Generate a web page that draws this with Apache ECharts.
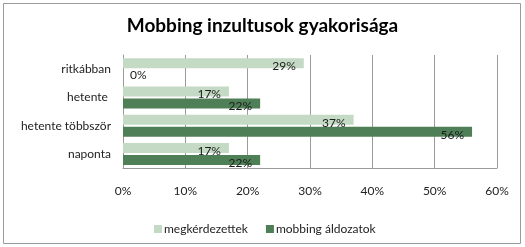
<!DOCTYPE html>
<html>
<head>
<meta charset="utf-8">
<script src="https://cdn.jsdelivr.net/npm/echarts@6/dist/echarts.min.js"></script>
<style>
html,body{margin:0;padding:0;background:#fff;}
#c{width:525px;height:247px;}
</style>
</head>
<body>
<div id="c"></div>
<script>
var categories = ['ritkábban', 'hetente ', 'hetente többször', 'naponta'];
var seriesNames = ['megkérdezettek', 'mobbing áldozatok'];
var megkerdezettek = [29, 17, 37, 17];
var aldozatok = [0, 22, 56, 22];
var xTicks = [0, 10, 20, 30, 40, 50, 60];

var FONT = 'Lato';
function mkData(arr) {
  return arr.map(function (v) {
    if (v === 0) return { value: v, label: { position: 'right', offset: [0, 0], distance: 7 } };
    return v;
  });
}
var labelCfg = {
  show: true, position: 'insideRight', offset: [-2, 3], distance: 6,
  formatter: '{c}%', color: '#1a1a1a', fontFamily: FONT, fontSize: 12
};
var chart = echarts.init(document.getElementById('c'), null, { renderer: 'canvas' });
chart.setOption({
  animation: false,
  backgroundColor: '#fff',
  title: {
    text: 'Mobbing inzultusok gyakorisága', left: 'center', top: 11,
    textStyle: { fontFamily: FONT, fontWeight: 'bold', fontSize: 19, color: '#000' }
  },
  graphic: [{
    type: 'rect', shape: { x: 3.5, y: 3.5, width: 517, height: 240 },
    style: { fill: 'none', stroke: '#9a9a9a', lineWidth: 1 }, silent: true
  }],
  legend: {
    data: seriesNames, left: 149, top: 218, itemWidth: 8, itemHeight: 8, itemGap: 18,
    icon: 'rect',
    textStyle: { fontFamily: FONT, fontSize: 12, color: '#222', padding: [0, 0, 0, -3] }
  },
  grid: { left: 123, right: 28, top: 55, bottom: 79, containLabel: false },
  xAxis: {
    type: 'value', min: xTicks[0], max: xTicks[xTicks.length - 1], interval: 10,
    axisLabel: { formatter: '{value}%', fontFamily: FONT, fontSize: 12, color: '#222', margin: 17 },
    axisLine: { show: true, lineStyle: { color: '#9a9a9a' } },
    axisTick: { show: false },
    splitLine: { show: true, lineStyle: { color: '#9a9a9a' } }
  },
  yAxis: {
    type: 'category', data: categories, inverse: true,
    axisLabel: { fontFamily: FONT, fontSize: 12, color: '#222', margin: 12 },
    axisLine: { show: true, lineStyle: { color: '#9a9a9a' } },
    axisTick: { show: false }
  },
  series: [
    { name: seriesNames[0], type: 'bar', data: mkData(megkerdezettek), barWidth: 10, barGap: '20%',
      itemStyle: { color: '#c5dac5' }, label: labelCfg },
    { name: seriesNames[1], type: 'bar', data: mkData(aldozatok), barWidth: 10, barGap: '20%',
      itemStyle: { color: '#4f7f56' }, label: labelCfg }
  ]
});
</script>
</body>
</html>
